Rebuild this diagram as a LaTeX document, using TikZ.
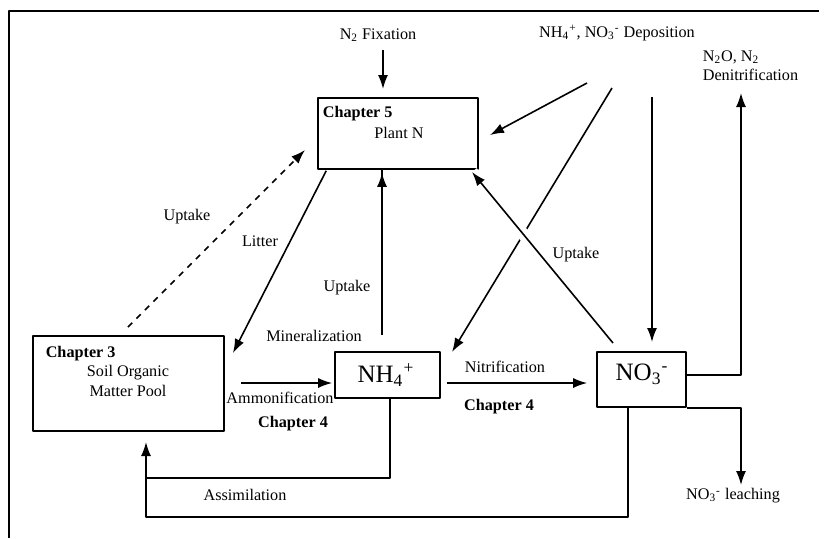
\documentclass[tikz,border=0pt]{standalone}
\usepackage{fontspec}
\setmainfont{Liberation Serif}
\usetikzlibrary{arrows.meta}
\newcommand\dn[1]{\textsubscript{#1}}
\newcommand\up[1]{\textsuperscript{#1}}

\begin{document}
\begin{tikzpicture}[x=0.5pt,y=-0.5pt,line join=round,thick,
    >={Latex[length=7pt,width=5pt]},font=\fontsize{8.1}{9.6}\selectfont]
    \tikzset{pool/.style={draw,rectangle,inner sep=0pt},
             lbl/.style={inner sep=1pt},
             chap/.style={inner sep=1pt,font=\fontsize{8.1}{9.6}\selectfont\bfseries},
             ion/.style={inner sep=0pt,font=\fontsize{12.5}{14}\selectfont},
             flow/.style={->}}
    \useasboundingbox (0,0) rectangle (824,538);
    % page frame
    \draw[semithick] (9,538)--(9,11)--(819,11);
    % pools
    \node[pool,minimum width=80pt,minimum height=35.5pt] (plant) at (398,133.5) {};
    \node[pool,minimum width=95.5pt,minimum height=47.5pt] (som) at (128.5,383.5) {};
    \node[pool,minimum width=52.5pt,minimum height=23pt] (nhf) at (387.5,375) {};
    \node[pool,minimum width=44.5pt,minimum height=27.5pt] (nth) at (641.5,379.5) {};
    \node[chap,anchor=west] (ch5) at (320,114) {Chapter 5};
    \node[lbl] (plantn) at (399,133) {Plant N};
    \node[chap,anchor=west] (ch3) at (43,354) {Chapter 3};
    \node[lbl,align=center] (somtxt) at (128,381) {Soil Organic\\Matter Pool};
    \node[ion] (nhftxt) at (386,375) {NH\dn{4}\up{+}};
    \node[ion] (nthtxt) at (642,374) {NO\dn{3}\up{-}};
    % inputs and outputs
    \node[lbl] (fix) at (378,35) {N\dn{2} Fixation};
    \node[lbl] (dep) at (617,33) {NH\dn{4}\up{+}, NO\dn{3}\up{-} Deposition};
    \node[lbl,align=left,anchor=west] (denit) at (700,66) {N\dn{2}O, N\dn{2}\\Denitrification};
    \node[lbl] (leach) at (733,496) {NO\dn{3}\up{-} leaching};
    % process labels
    \node[lbl] (upd) at (187,217) {Uptake};
    \node[lbl] (lit) at (260,241) {Litter};
    \node[lbl] (upa) at (347,288) {Uptake};
    \node[lbl] (mine) at (314,336) {Mineralization};
    \node[lbl] (upn) at (576,255) {Uptake};
    \node[lbl] (amm) at (280,398) {Ammonification};
    \node[chap] (ch4a) at (293,424) {Chapter 4};
    \node[lbl] (nit) at (505,367) {Nitrification};
    \node[chap] (ch4b) at (499,407) {Chapter 4};
    \node[lbl] (assim) at (245,495) {Assimilation};
    % free ends
    \coordinate (fixtip) at (383,89);
    \coordinate (dtipa) at (490,135);
    \coordinate (dtipb) at (452,352);
    \coordinate (dtipc) at (652,342);
    \coordinate (denittip) at (741,93);
    \coordinate (leachtip) at (741,485);
    % fluxes
    \draw[flow] (fix.south -| fixtip)++(0,6) -- (fixtip);
    \draw[flow] (587,83) -- (dtipa);
    \draw[flow] (612,88) -- (dtipb);
    \draw[flow] (652,97) -- (dtipc);
    \draw[flow,dashed] (128,327) -- (305,150);
    \draw[flow] (plant.south west)++(9,1) -- (233,353);
    \draw[flow] (382,335) -- (plant.south -| 382,0)++(0,3);
    \draw[flow,preaction={draw,white,line width=6pt,-}] (613,343) -- (472,172);
    \draw[flow,shorten <=8pt,shorten >=1pt] (som.east |- 0,383) -- (nhf.west |- 0,383);
    \draw[flow,shorten <=3pt,shorten >=4.5pt] (nhf.east |- 0,383) -- (nth.west |- 0,383);
    \draw[flow] (nth.east |- 0,375) -| (denittip);
    \draw[flow] (nth.south east) -| (leachtip);
    \draw (nhf.south -| 390,0) |- (146,478);
    \draw[flow] (nth.south -| 628,0) |- (146,517) -- (146,442);
\end{tikzpicture}
\end{document}
